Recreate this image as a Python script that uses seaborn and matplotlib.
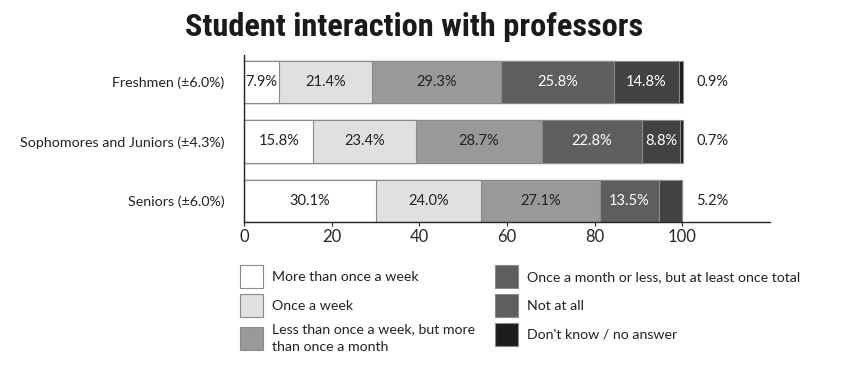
"""
Student interaction with professors — stacked horizontal bar chart.
Writes out.png
"""

import matplotlib
matplotlib.use("Agg")  # headless
import matplotlib.pyplot as plt
from matplotlib import font_manager
from matplotlib.patches import Patch
import numpy as np
import pandas as pd
import seaborn as sns

# groups (rows of the chart)
GROUPS = ["Freshmen (±6.0%)", "Sophomores and Juniors (±4.3%)", "Seniors (±6.0%)"]

# answer categories, in stacking order
CATEGORIES = [
    "More than once a week",
    "Once a week",
    "Less than once a week, but more\nthan once a month",
    "Once a month or less, but at least once total",
    "Not at all",
    "Don't know / no answer",
]

# percent per group, one list per category
more_than_weekly = [7.9, 15.8, 30.1]
once_a_week = [21.4, 23.4, 24.0]
less_than_weekly = [29.3, 28.7, 27.1]
monthly_or_less = [25.8, 22.8, 13.5]
not_at_all = [14.8, 8.8, 5.2]
dont_know = [0.9, 0.7, 0.0]

COLORS = ["#ffffff", "#e0e0e0", "#999999", "#5e5e5e", "#424242", "#1c1c1c"]
TEXT_COLORS = ["#222222", "#222222", "#222222", "#ffffff", "#ffffff", "#ffffff"]
LEGEND_COLORS = ["#ffffff", "#e0e0e0", "#999999", "#5e5e5e", "#5e5e5e", "#1c1c1c"]

sns.set_style("ticks")
plt.rcParams["font.family"] = ["Lato", "DejaVu Sans"]

# narrowest bold face available for the title
names = {f.name for f in font_manager.fontManager.ttflist}
title_fam = next((n for n in ["Roboto Condensed", "Liberation Sans Narrow",
                              "DejaVu Sans Condensed", "Open Sans Condensed"]
                  if n in names), "DejaVu Sans")

values = np.array([more_than_weekly, once_a_week, less_than_weekly,
                   monthly_or_less, not_at_all, dont_know])
cum = values.cumsum(axis=0)

fig = plt.figure(figsize=(8.57, 3.72), dpi=100)
ax = fig.add_axes([244 / 857, 1 - 222 / 372, (770 - 244) / 857, (222 - 55) / 372])

# stacked bars: draw cumulative totals from the outermost segment inward
for i in reversed(range(len(CATEGORIES))):
    df = pd.DataFrame({"group": GROUPS, "total": cum[i]})
    sns.barplot(data=df, x="total", y="group", orient="h", color=COLORS[i],
                saturation=1, width=0.71, edgecolor="#8a8a8a", linewidth=0.8,
                ax=ax)

# value labels
for g in range(len(GROUPS)):
    last = max(i for i in range(len(CATEGORIES)) if values[i, g] > 0)
    for i in range(len(CATEGORIES)):
        v = values[i, g]
        if v <= 0:
            continue
        if i == last:
            ax.text(103.2, g, f"{v:.1f}%", ha="left", va="center",
                    fontsize=10.5, color="#222222")
        else:
            ax.text(cum[i, g] - v / 2, g, f"{v:.1f}%", ha="center", va="center",
                    fontsize=10.5, color=TEXT_COLORS[i])

ax.set_xlim(0, 120)
ax.set_ylim(2.355, -0.455)
ax.set_xticks([0, 20, 40, 60, 80, 100])
ax.tick_params(axis="x", labelsize=12, length=3, color="#222222", pad=2)
ax.tick_params(axis="y", labelsize=10.25, length=0, pad=14, labelcolor="#222222")
ax.set_xlabel("")
ax.set_ylabel("")
sns.despine(ax=ax)
for s in ("left", "bottom"):
    ax.spines[s].set_color("#222222")
    ax.spines[s].set_linewidth(1.0)

fig.text(414 / 857, 1 - 27 / 372, "Student interaction with professors",
         ha="center", va="center", fontsize=23.3, fontweight="bold",
         fontstretch="condensed", family=[title_fam, "DejaVu Sans"],
         color="#1a1a1a")

handles = [Patch(facecolor=c, edgecolor="#8a8a8a", linewidth=0.8) for c in LEGEND_COLORS]
leg = fig.legend(handles, CATEGORIES, ncol=2, loc="upper left",
                 bbox_to_anchor=(240 / 857, 1 - 265 / 372), frameon=False,
                 fontsize=10.15, handlelength=1.63, handleheight=2.13,
                 handletextpad=0.64, labelspacing=0.43, columnspacing=1.4,
                 borderaxespad=0, borderpad=0, labelcolor="#222222")
# the two-line label sits on wider line spacing in the original
for t in leg.get_texts():
    t.set_linespacing(1.6)

fig.savefig("out.png", dpi=100)
